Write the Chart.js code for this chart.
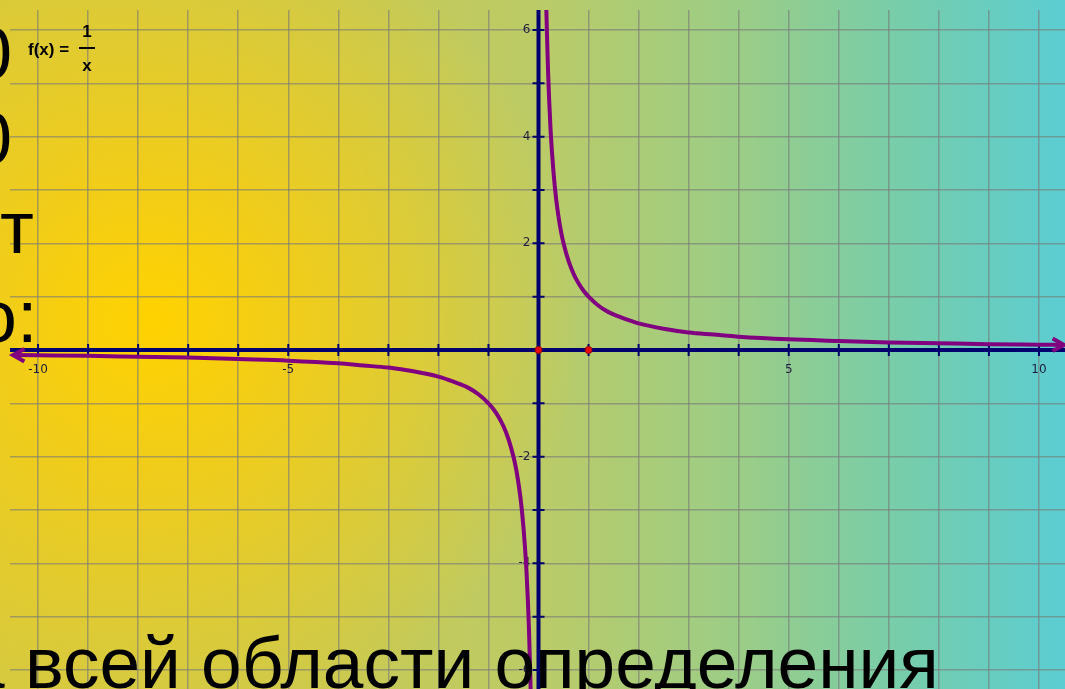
<!DOCTYPE html>
<html>
<head>
<meta charset="utf-8">
<script src="https://cdn.jsdelivr.net/npm/chart.js@4.4.1/dist/chart.umd.min.js"></script>
<style>
    html, body { margin: 0; padding: 0; overflow: hidden; }
    body {
        width: 1065px;
        height: 689px;
        background:
            radial-gradient(circle 430px at 150px 320px, rgba(255, 210, 0, 1) 0%, rgba(252, 206, 10, 0.75) 35%, rgba(240, 200, 40, 0) 100%),
            linear-gradient(to right, #d2c945 0%, #c9c952 30%, #bccb66 50%, #9acd88 70%, #76cdab 85%, #5ccdd2 100%);
    }
    canvas { display: block; }
</style>
</head>
<body>
<canvas id="graph" width="1065" height="689"></canvas>
<script>
// values: the two branches of f(x) = 1/x
let rightX = [0.155, 0.17, 0.19, 0.21, 0.24, 0.27, 0.3, 0.35, 0.4, 0.45, 0.5, 0.6, 0.7, 0.8, 0.9, 1, 1.2, 1.4, 1.6, 1.8, 2, 2.5, 3, 3.5, 4, 5, 6, 7, 8, 9, 10, 10.5]
let rightY = [6.45, 5.9, 5.25, 4.75, 4.15, 3.7, 3.33, 2.85, 2.5, 2.22, 2, 1.67, 1.43, 1.25, 1.11, 1, 0.83, 0.71, 0.63, 0.56, 0.5, 0.4, 0.33, 0.29, 0.25, 0.2, 0.17, 0.14, 0.125, 0.11, 0.1, 0.095]
let leftX = [-10.5, -10, -9, -8, -7, -6, -5, -4, -3.5, -3, -2.5, -2, -1.8, -1.6, -1.4, -1.2, -1, -0.9, -0.8, -0.7, -0.6, -0.5, -0.45, -0.4, -0.35, -0.3, -0.27, -0.24, -0.21, -0.19, -0.17, -0.155]
let leftY = [-0.095, -0.1, -0.11, -0.125, -0.14, -0.17, -0.2, -0.25, -0.29, -0.33, -0.4, -0.5, -0.56, -0.63, -0.71, -0.83, -1, -1.11, -1.25, -1.43, -1.67, -2, -2.22, -2.5, -2.85, -3.33, -3.7, -4.15, -4.75, -5.25, -5.9, -6.45]

// red points on the x axis
let dotX = [0, 1]
let dotY = [0, 0]

// axis labels
let xLabelValues = [-10, -5, 5, 10]
let xLabels = ["-10", "-5", "5", "10"]
let yLabelValues = [6, 4, 2, -2, -4, -6]
let yLabels = ["6", "4", "2", "-2", "-4", "-6"]

// slide text around the graph
let sideLines = ["k > 0", "k < 0", "убывает", "видно:"]
let bottomLine = "на всей области определения"

function toPoints(xs, ys) {
    return xs.map(function(x, i) { return { x: x, y: ys[i] } })
}

let navy = "rgb(0, 0, 110)"
let purple = "rgb(128, 0, 128)"

let axesPlugin = {
    id: "axes",
    beforeDatasetsDraw: function(chart) {
        let ctx = chart.ctx
        let area = chart.chartArea
        let xs = chart.scales.x
        let ys = chart.scales.y
        let x0 = xs.getPixelForValue(0)
        let y0 = ys.getPixelForValue(0)
        ctx.save()
        ctx.strokeStyle = navy
        ctx.lineWidth = 4
        ctx.beginPath()
        ctx.moveTo(area.left, y0)
        ctx.lineTo(area.right, y0)
        ctx.moveTo(x0, area.top)
        ctx.lineTo(x0, area.bottom)
        ctx.stroke()

        // small ticks at every grid value
        ctx.lineWidth = 2
        ctx.beginPath()
        xs.ticks.forEach(function(t) {
            if (t.value == 0) return
            let px = xs.getPixelForValue(t.value)
            ctx.moveTo(px, y0 - 6)
            ctx.lineTo(px, y0 + 6)
        })
        ys.ticks.forEach(function(t) {
            if (t.value == 0) return
            let py = ys.getPixelForValue(t.value)
            ctx.moveTo(x0 - 6, py)
            ctx.lineTo(x0 + 6, py)
        })
        ctx.stroke()

        ctx.fillStyle = "rgb(30, 30, 60)"
        ctx.font = "12px 'DejaVu Sans'"
        ctx.textAlign = "center"
        ctx.textBaseline = "middle"
        xLabelValues.forEach(function(v, i) {
            ctx.fillText(xLabels[i], xs.getPixelForValue(v), y0 + 20)
        })
        ctx.textAlign = "right"
        yLabelValues.forEach(function(v, i) {
            ctx.fillText(yLabels[i], x0 - 8, ys.getPixelForValue(v))
        })
        ctx.restore()
    },
    afterDatasetsDraw: function(chart) {
        // arrow heads at the open ends of the curve
        let ctx = chart.ctx
        let xs = chart.scales.x
        let ys = chart.scales.y
        function arrow(tip, from) {
            let tx = xs.getPixelForValue(tip.x), ty = ys.getPixelForValue(tip.y)
            let fx = xs.getPixelForValue(from.x), fy = ys.getPixelForValue(from.y)
            let a = Math.atan2(ty - fy, tx - fx)
            ctx.beginPath()
            ctx.moveTo(tx - 13 * Math.cos(a - 0.5), ty - 13 * Math.sin(a - 0.5))
            ctx.lineTo(tx, ty)
            ctx.lineTo(tx - 13 * Math.cos(a + 0.5), ty - 13 * Math.sin(a + 0.5))
            ctx.stroke()
        }
        ctx.save()
        ctx.strokeStyle = purple
        ctx.lineWidth = 4
        ctx.lineJoin = "miter"
        arrow({ x: leftX[0], y: leftY[0] }, { x: leftX[1], y: leftY[1] })
        let n = rightX.length - 1
        arrow({ x: rightX[n], y: rightY[n] }, { x: rightX[n - 1], y: rightY[n - 1] })
        ctx.restore()
    },
    afterDraw: function(chart) {
        let ctx = chart.ctx
        ctx.save()
        ctx.fillStyle = "#000"
        ctx.textBaseline = "alphabetic"
        ctx.textAlign = "left"

        // formula in the corner
        ctx.font = "bold 17px 'Liberation Sans'"
        ctx.fillText("f(x) =", 28, 55)
        ctx.textAlign = "center"
        ctx.fillText("1", 87, 37)
        ctx.fillText("x", 87, 71)
        ctx.fillRect(79, 47, 16, 2)

        // big slide text, mostly cut off by the left edge
        ctx.textAlign = "left"
        ctx.font = "74px 'Liberation Sans'"
        let rights = [10, 10, 33, 31]
        let bases = [79, 164, 253, 342]
        sideLines.forEach(function(s, i) {
            let m = ctx.measureText(s)
            ctx.fillText(s, rights[i] - m.actualBoundingBoxRight, bases[i])
        })

        ctx.font = "73px 'Liberation Sans'"
        let lead = ctx.measureText("на ").width
        ctx.fillText(bottomLine, 25 - lead, 688)
        ctx.restore()
    }
}

let gridColor = "rgba(120, 120, 120, 0.6)"

let chart = new Chart(document.getElementById("graph").getContext("2d"), {
    type: "scatter",
    data: {
        datasets: [
            {
                data: toPoints(dotX, dotY),
                pointRadius: 3.5,
                pointBackgroundColor: "rgb(230, 10, 10)",
                pointBorderColor: "rgb(150, 0, 0)",
                pointBorderWidth: 1
            },
            {
                data: toPoints(rightX, rightY),
                showLine: true,
                borderColor: purple,
                borderWidth: 4,
                pointRadius: 0,
                cubicInterpolationMode: "monotone"
            },
            {
                data: toPoints(leftX, leftY),
                showLine: true,
                borderColor: purple,
                borderWidth: 4,
                pointRadius: 0,
                cubicInterpolationMode: "monotone"
            }
        ]
    },
    options: {
        responsive: false,
        animation: false,
        devicePixelRatio: 1,
        layout: { autoPadding: false, padding: { left: 10, top: 10, right: 0, bottom: 0 } },
        plugins: { legend: { display: false }, tooltip: { enabled: false } },
        scales: {
            x: {
                type: "linear",
                min: -10.56,
                max: 10.52,
                ticks: { display: false, stepSize: 1, includeBounds: false },
                grid: { color: gridColor, lineWidth: 1.5, drawTicks: false },
                border: { display: false }
            },
            y: {
                type: "linear",
                min: -6.356,
                max: 6.375,
                ticks: { display: false, stepSize: 1, includeBounds: false },
                grid: { color: gridColor, lineWidth: 1.5, drawTicks: false },
                border: { display: false }
            }
        }
    },
    plugins: [axesPlugin]
})
</script>
</body>
</html>
